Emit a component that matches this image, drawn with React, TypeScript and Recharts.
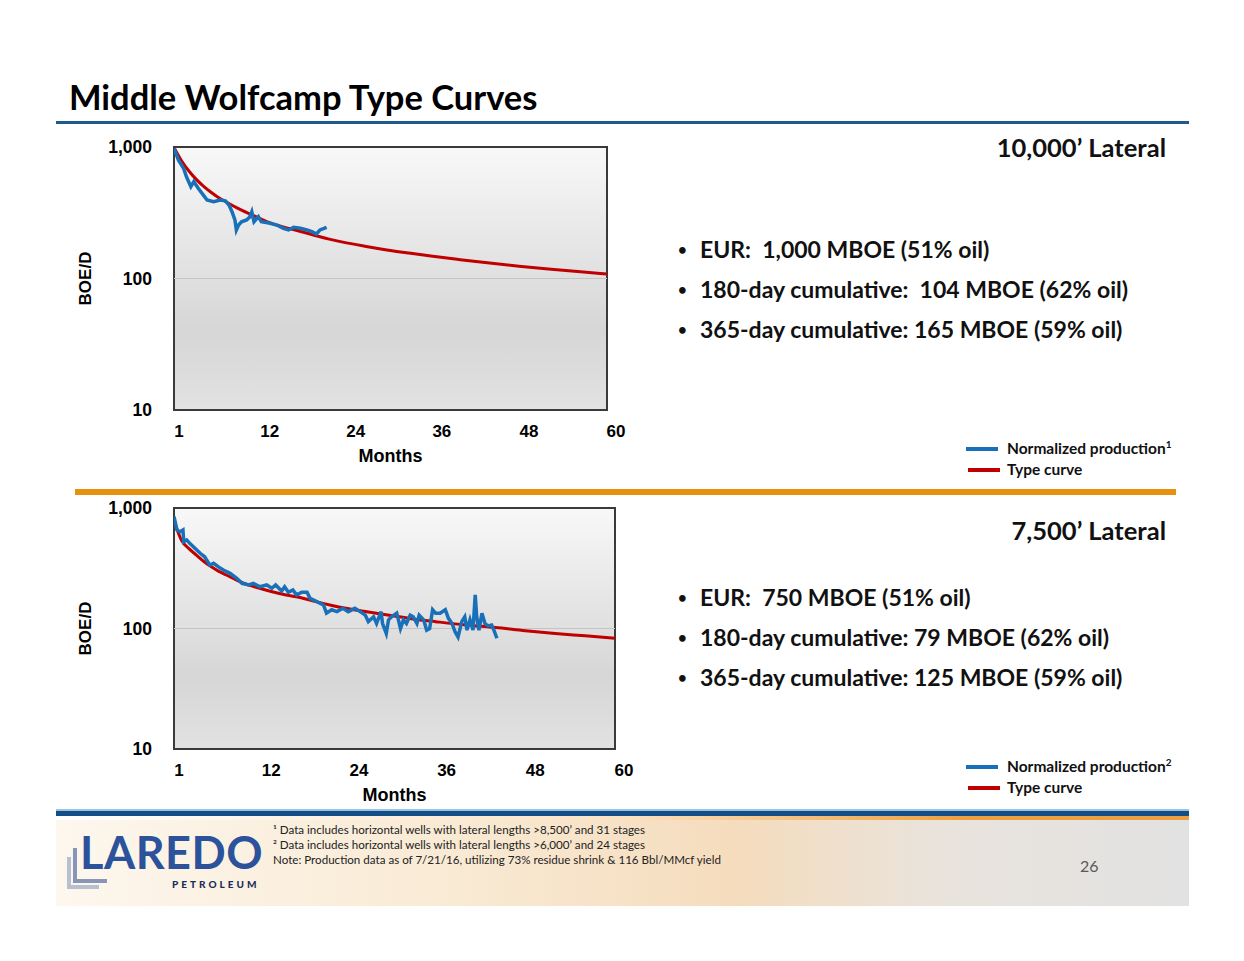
import React from "react";
import { LineChart, Line, XAxis, YAxis, ReferenceArea, ReferenceLine } from "recharts";

// 10,000' lateral
const typeTopMonths = [1, 2, 3, 4, 5, 6, 7, 8, 10, 12, 14, 16, 18, 20, 22, 24, 27, 30, 33, 36, 40, 44, 48, 52, 56, 60];
const typeTopValues = [990, 790, 660, 570, 505, 455, 415, 385, 335, 298, 266, 246, 230, 214, 200, 189, 176, 165, 156, 148, 139, 131, 124, 118, 113, 108];
const prodTopMonths = [1, 1.6, 2.3, 2.7, 3.3, 3.7, 4.3, 5.0, 5.5, 6.4, 7.3, 8.0, 8.5, 8.9, 9.3, 9.5, 9.8, 10.2, 10.9, 11.3, 11.6, 11.9, 12.5, 12.9, 14.1, 15.0, 15.9, 16.6, 17.3, 18.2, 19.1, 19.8, 20.4, 20.9, 21.8];
const prodTopValues = [977, 797, 689, 594, 499, 545, 485, 431, 395, 384, 395, 390, 362, 322, 279, 234, 255, 270, 279, 292, 322, 270, 295, 270, 263, 255, 241, 234, 245, 241, 234, 227, 218, 234, 245];

// 7,500' lateral
const typeBotMonths = [1, 2, 3, 4, 5, 6, 7, 8, 10, 12, 14, 16, 18, 20, 22, 24, 27, 30, 33, 36, 40, 44, 48, 52, 56, 60];
const typeBotValues = [780, 540, 460, 407, 360, 325, 298, 278, 242, 220, 203, 190, 180, 167, 156, 147, 137, 128, 120, 114, 107, 102, 96, 91, 87, 83];
const prodBotMonths = [1, 1.4, 1.8, 2.2, 2.3, 2.7, 3.1, 3.8, 4.5, 5.1, 5.8, 6.3, 6.9, 7.6, 8.5, 9.4, 10.1, 11, 11.6, 12.5, 13.4, 14.1, 14.6, 15.4, 15.8, 16.3, 16.9, 17.4, 18.1, 18.8, 19.2, 20.1, 21, 21.4, 22.1, 22.8, 23.6, 24.3, 25.2, 25.9, 26.6, 27, 27.7, 28.1, 28.7, 28.9, 29.4, 29.7, 30.1, 30.8, 31.3, 31.7, 32.1, 32.6, 33, 33.5, 33.8, 34.4, 34.8, 35.2, 35.6, 36, 36.6, 37.3, 37.7, 38.2, 38.6, 39, 39.5, 39.9, 40.2, 40.6, 41, 41.3, 41.5, 41.8, 42.2, 42.6, 43, 43.5, 43.8, 44.2];
const prodBotValues = [850, 657, 636, 657, 525, 543, 509, 463, 421, 394, 336, 348, 326, 306, 287, 261, 237, 230, 237, 222, 230, 216, 230, 205, 222, 200, 209, 190, 200, 200, 178, 167, 157, 134, 143, 138, 147, 138, 147, 138, 129, 114, 125, 110, 138, 110, 91, 118, 125, 134, 100, 118, 110, 129, 125, 110, 129, 118, 97, 100, 143, 134, 134, 143, 122, 110, 94, 85, 114, 125, 97, 118, 97, 190, 125, 97, 134, 110, 105, 107, 97, 83];

const monthTicks = [1, 12, 24, 36, 48, 60];
const boeTicks = [10, 100, 1000];

const topBullets = ["EUR:  1,000 MBOE (51% oil)", "180-day cumulative:  104 MBOE (62% oil)", "365-day cumulative: 165 MBOE (59% oil)"];
const botBullets = ["EUR:  750 MBOE (51% oil)", "180-day cumulative: 79 MBOE (62% oil)", "365-day cumulative: 125 MBOE (59% oil)"];
const footnotes = [
  "¹ Data includes horizontal wells with lateral lengths >8,500’ and 31 stages",
  "² Data includes horizontal wells with lateral lengths >6,000’ and 24 stages",
  "Note: Production data as of 7/21/16, utilizing 73% residue shrink & 116 Bbl/MMcf yield",
];

const zip = (ms: number[], vs: number[]) => ms.map((m, i) => ({ m, v: vs[i] }));

const AXIS_FONT = "'Liberation Sans', Arial, sans-serif";
const SLIDE_FONT = "Lato, 'Open Sans', sans-serif";

// the slide's month labels sit a little right of their ticks
const tickShift: Record<number, number> = { 1: 5, 12: 15, 24: 13, 36: 11, 48: 10, 60: 9 };

const XTick = (props: any) => (
  <text x={props.x + (tickShift[props.payload.value] ?? 10)} y={props.y + 21} textAnchor="middle" dominantBaseline="central"
    fontFamily={AXIS_FONT} fontWeight={700} fontSize={17} fill="#000">
    {props.payload.value}
  </text>
);

const YTick = (props: any) => (
  <text x={props.x - 22} y={props.y} textAnchor="end" dominantBaseline="central"
    fontFamily={AXIS_FONT} fontWeight={700} fontSize={17.5} fill="#000">
    {Number(props.payload.value).toLocaleString("en-US")}
  </text>
);

const MonthsLabel = (props: any) => {
  const vb = props.viewBox;
  return (
    <text x={vb.x + vb.width / 2} y={vb.y + 46} textAnchor="middle" dominantBaseline="central"
      fontFamily={AXIS_FONT} fontWeight={700} fontSize={18} fill="#000">
      Months
    </text>
  );
};

const BoeLabel = (props: any) => {
  const vb = props.viewBox;
  const cy = vb.y + vb.height / 2;
  return (
    <text x={25} y={cy} transform={`rotate(-90 25 ${cy})`} textAnchor="middle" dominantBaseline="central"
      fontFamily={AXIS_FONT} fontWeight={700} fontSize={17} fill="#000">
      BOE/D
    </text>
  );
};

function TypeCurveChart({ id, width, height, marginTop, marginRight, typeData, prodData }: any) {
  return (
    <LineChart width={width} height={height} margin={{ top: marginTop, right: marginRight, bottom: 0, left: 0 }}>
      <defs>
        <linearGradient id={id} x1="0" y1="0" x2="0" y2="1">
          <stop offset="0%" stopColor="#f8f8f8" />
          <stop offset="70%" stopColor="#d6d6d6" />
          <stop offset="100%" stopColor="#e2e2e2" />
        </linearGradient>
      </defs>
      <XAxis type="number" dataKey="m" domain={[1, 60]} ticks={monthTicks} allowDataOverflow
        axisLine={false} tickLine={false} tickSize={0} tickMargin={0} height={70}
        tick={<XTick />} label={<MonthsLabel />} />
      <YAxis type="number" dataKey="v" scale="log" domain={[10, 1000]} ticks={boeTicks} allowDataOverflow
        axisLine={false} tickLine={false} tickSize={0} tickMargin={0} width={114}
        tick={<YTick />} label={<BoeLabel />} />
      <ReferenceArea x1={1} x2={60} y1={10} y2={1000} fill={`url(#${id})`} fillOpacity={1}
        stroke="#3a3a3a" strokeWidth={2} />
      <ReferenceLine y={100} stroke="#c4c4c4" strokeWidth={1} />
      <Line data={typeData} dataKey="v" type="monotone" stroke="#c00000" strokeWidth={3}
        dot={false} isAnimationActive={false} />
      <Line data={prodData} dataKey="v" type="linear" stroke="#1870b8" strokeWidth={3.5}
        dot={false} isAnimationActive={false} />
    </LineChart>
  );
}

const abs = (left: number, top: number, extra: any = {}) => ({ position: "absolute" as const, left, top, ...extra });

function Legend({ top, note }: { top: number; note: string }) {
  const txt = { fontFamily: SLIDE_FONT, fontWeight: 700, fontSize: 15.5, color: "#111", whiteSpace: "nowrap" as const, lineHeight: "18px" };
  return (
    <>
      <div style={abs(966, top - 2, { width: 32, height: 4, background: "#1870b8" })} />
      <div style={abs(1007, top - 10, txt)}>
        Normalized production<sup style={{ fontSize: 10, lineHeight: 0 }}>{note}</sup>
      </div>
      <div style={abs(968, top + 19, { width: 32, height: 4, background: "#c00000" })} />
      <div style={abs(1007, top + 11, txt)}>Type curve</div>
    </>
  );
}

function Bullets({ top, items }: { top: number; items: string[] }) {
  return (
    <>
      {items.map((t, i) => (
        <div key={i} style={abs(678, top + i * 40 - 14, { fontFamily: SLIDE_FONT, fontWeight: 700, fontSize: 23, lineHeight: "28px", whiteSpace: "pre", color: "#111" })}>
          <span style={{ display: "inline-block", width: 22, fontSize: 15, verticalAlign: "top", lineHeight: "28px" }}>•</span>{t}
        </div>
      ))}
    </>
  );
}

export default function App() {
  return (
    <div style={{ position: "absolute", left: 0, top: 0, width: 1244, height: 961, background: "#fff", overflow: "hidden" }}>
      <div style={abs(69, 76, { fontFamily: SLIDE_FONT, fontWeight: 700, fontSize: 34.5, lineHeight: "42px", color: "#000", whiteSpace: "nowrap" })}>
        Middle Wolfcamp Type Curves
      </div>
      <div style={abs(56, 121, { width: 1133, height: 3, background: "#1f5a8e" })} />

      <div style={abs(60, 130)}>
        <TypeCurveChart id="bgTop" width={580} height={350} marginTop={17} marginRight={33}
          typeData={zip(typeTopMonths, typeTopValues)} prodData={zip(prodTopMonths, prodTopValues)} />
      </div>
      <div style={abs(866, 131, { width: 300, textAlign: "right", fontFamily: SLIDE_FONT, fontWeight: 700, fontSize: 25.5, lineHeight: "32px", color: "#111" })}>
        10,000’ Lateral
      </div>
      <Bullets top={249} items={topBullets} />
      <Legend top={449} note="1" />

      <div style={abs(75, 489, { width: 1101, height: 6, background: "#e8900f" })} />

      <div style={abs(60, 491)}>
        <TypeCurveChart id="bgBot" width={588} height={328} marginTop={17} marginRight={33}
          typeData={zip(typeBotMonths, typeBotValues)} prodData={zip(prodBotMonths, prodBotValues)} />
      </div>
      <div style={abs(866, 514, { width: 300, textAlign: "right", fontFamily: SLIDE_FONT, fontWeight: 700, fontSize: 25.5, lineHeight: "32px", color: "#111" })}>
        7,500’ Lateral
      </div>
      <Bullets top={597} items={botBullets} />
      <Legend top={767} note="2" />

      {/* footer */}
      <div style={abs(56, 809, { width: 1133, height: 2, background: "#9cc3e0" })} />
      <div style={abs(56, 811, { width: 1133, height: 5, background: "#124e88" })} />
      <div style={abs(56, 816, { width: 1133, height: 4, background: "linear-gradient(to right, rgba(240,160,60,0) 0%, rgba(240,160,60,0.3) 50%, #eda040 80%, #eda040 100%)" })} />
      <div style={abs(56, 820, { width: 1133, height: 86, background: "linear-gradient(to right, #fdf7ee 0%, #f9ead4 35%, #f5dcbd 60%, #e9e3dc 78%, #e2e2e2 100%)" })} />

      <div style={abs(67, 857, { width: 32, height: 32, borderLeft: "4px solid #b7bfd0", borderBottom: "4px solid #b7bfd0", boxSizing: "border-box" })} />
      <div style={abs(73, 848, { width: 34, height: 35, borderLeft: "4px solid #8795b8", borderBottom: "4px solid #8795b8", boxSizing: "border-box" })} />
      <div style={abs(80, 825, { fontFamily: SLIDE_FONT, fontWeight: 700, fontSize: 45, lineHeight: "54px", color: "#2b529a", letterSpacing: 0.5, whiteSpace: "nowrap" })}>
        LAREDO
      </div>
      <div style={abs(172, 878, { fontFamily: SLIDE_FONT, fontWeight: 900, fontSize: 10, lineHeight: "12px", color: "#1c2f5a", letterSpacing: 3, whiteSpace: "nowrap" })}>
        PETROLEUM
      </div>

      {footnotes.map((t, i) => (
        <div key={i} style={abs(273, 823 + i * 15, { fontFamily: SLIDE_FONT, fontSize: 11.6, lineHeight: "14px", color: "#222", whiteSpace: "nowrap" })}>
          {t}
        </div>
      ))}
      <div style={abs(1080, 856, { fontFamily: SLIDE_FONT, fontSize: 16, lineHeight: "20px", color: "#595959" })}>26</div>
    </div>
  );
}
